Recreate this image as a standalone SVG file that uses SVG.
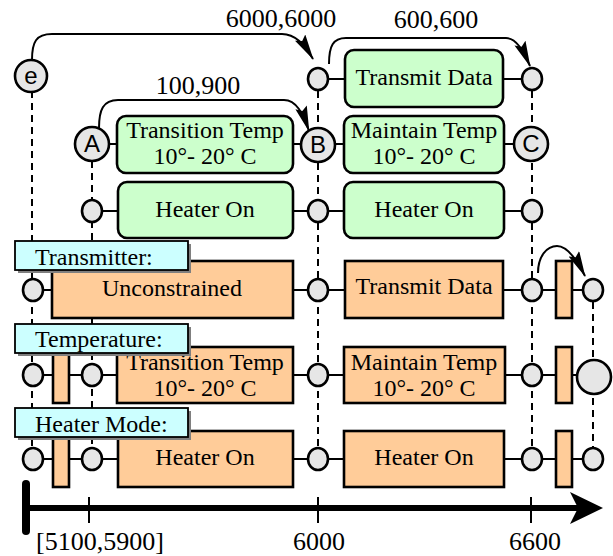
<svg xmlns="http://www.w3.org/2000/svg" width="613" height="556" viewBox="0 0 613 556">
<style>
.bg{fill:#ffffff}
.dash{stroke:#000;stroke-width:2;stroke-dasharray:7,5;fill:none}
.row{stroke:#000;stroke-width:2;fill:none}
.arc{stroke:#000;stroke-width:2;fill:none;marker-end:url(#ah)}
.g{fill:#ccffcc;stroke:#000;stroke-width:2.6}
.o{fill:#ffcc99;stroke:#000;stroke-width:2.6}
.pt{fill:#e6e6e6;stroke:#000;stroke-width:2.6}
.lab{fill:#ccffff;stroke:#000;stroke-width:1.8}
.sh{fill:#7f7f7f}
.t{font-family:"Liberation Serif","Times New Roman",serif;font-size:24px;fill:#000;text-anchor:middle}
.tl{font-family:"Liberation Serif","Times New Roman",serif;font-size:24px;fill:#000}
.el{font-family:"Liberation Serif","Times New Roman",serif;font-size:26px;fill:#000;text-anchor:middle}
.al{font-family:"Liberation Serif","Times New Roman",serif;font-size:26px;fill:#000;text-anchor:middle}
.c{font-family:"Liberation Sans",Arial,sans-serif;font-size:24px;fill:#000;text-anchor:middle}
.ax{stroke:#000;stroke-width:6;fill:none}
.tick{stroke:#000;stroke-width:2}
</style>
<defs>
<marker id="ah" viewBox="0 0 26 12" refX="25" refY="6" markerWidth="26" markerHeight="12" markerUnits="userSpaceOnUse" orient="auto">
<path d="M0,0 L26,6 L0,12 L4,6 z" fill="#000"/>
</marker>
</defs>
<rect class="bg" x="0" y="0" width="613" height="556"/>

<g id="connectors">
<line class="dash" x1="32" y1="91" x2="32" y2="459"/>
<line class="dash" x1="92" y1="161" x2="92" y2="459"/>
<line class="dash" x1="318" y1="79" x2="318" y2="459"/>
<line class="dash" x1="532" y1="79" x2="532" y2="459"/>
<line class="dash" x1="593" y1="290" x2="593" y2="459"/>
<line class="row" x1="318" y1="79" x2="532" y2="79"/>
<line class="row" x1="92" y1="144" x2="532" y2="144"/>
<line class="row" x1="92" y1="211" x2="532" y2="211"/>
<line class="row" x1="32" y1="290" x2="593" y2="290"/>
<line class="row" x1="32" y1="375" x2="594" y2="375"/>
<line class="row" x1="32" y1="459" x2="593" y2="459"/>
<path class="arc" d="M32,60 C32,42 36,34 52,34 L282,34 C295,34 304,44 313,59"/>
<path class="arc" d="M99,128 C99,110 103,100 118,100 L284,100 C296,100 303,113 309,131"/>
<path class="arc" d="M329,64 C329,46 333,38 346,38 L506,38 C516,38 523,50 530,66"/>
<path class="arc" d="M538,273 C538,256 547,246 557,246 C566,246 576,258 585,276"/>
</g>

<g id="e"><circle class="pt" cx="31" cy="76" r="16"/><text class="c" x="31" y="84">e</text></g>
<g id="r1-in"><ellipse class="pt" cx="318" cy="79" rx="10" ry="11"/></g>
<g id="g-transmit"><rect class="g" x="345" y="50" width="158" height="57" rx="9"/><text class="t" x="424" y="85">Transmit Data</text></g>
<g id="r1-out"><ellipse class="pt" cx="532" cy="79" rx="10" ry="11"/></g>

<g id="A"><circle class="pt" cx="92" cy="144" r="17"/><text class="c" x="92" y="152">A</text></g>
<g id="g-transition"><rect class="g" x="117" y="116" width="176" height="57" rx="9"/><text class="t" x="205" y="138">Transition Temp</text><text class="t" x="205" y="164">10°- 20° C</text></g>
<g id="B"><circle class="pt" cx="318" cy="145" r="17"/><text class="c" x="318" y="153">B</text></g>
<g id="g-maintain"><rect class="g" x="344" y="116" width="160" height="57" rx="9"/><text class="t" x="424" y="138">Maintain Temp</text><text class="t" x="424" y="164">10°- 20° C</text></g>
<g id="C"><circle class="pt" cx="531" cy="144" r="17"/><text class="c" x="531" y="152">C</text></g>

<g id="r3-a"><ellipse class="pt" cx="92" cy="211" rx="10" ry="11"/></g>
<g id="g-heater1"><rect class="g" x="118" y="182" width="175" height="56" rx="9"/><text class="t" x="205" y="217">Heater On</text></g>
<g id="r3-b"><ellipse class="pt" cx="318" cy="211" rx="10" ry="11"/></g>
<g id="g-heater2"><rect class="g" x="344" y="182" width="160" height="56" rx="9"/><text class="t" x="424" y="217">Heater On</text></g>
<g id="r3-c"><ellipse class="pt" cx="532" cy="211" rx="10" ry="11"/></g>

<g id="r4-a"><ellipse class="pt" cx="33" cy="290" rx="10" ry="11"/></g>
<g id="o-unconstrained"><rect class="o" x="52" y="261" width="241" height="57"/><text class="t" x="172" y="296">Unconstrained</text></g>
<g id="r4-b"><ellipse class="pt" cx="318" cy="290" rx="10" ry="11"/></g>
<g id="o-transmit"><rect class="o" x="345" y="261" width="158" height="57"/><text class="t" x="424" y="294">Transmit Data</text></g>
<g id="r4-c"><ellipse class="pt" cx="532" cy="290" rx="10" ry="11"/></g>
<g id="r4-bar"><rect class="o" x="556" y="261" width="16" height="57"/></g>
<g id="r4-d"><ellipse class="pt" cx="593" cy="290" rx="10" ry="11"/></g>

<g id="r5-a"><ellipse class="pt" cx="33" cy="375" rx="10" ry="11"/></g>
<g id="r5-bar1"><rect class="o" x="53" y="347" width="16" height="56"/></g>
<g id="r5-b"><ellipse class="pt" cx="92" cy="375" rx="10" ry="11"/></g>
<g id="o-transition"><rect class="o" x="117" y="347" width="176" height="56"/><text class="t" x="205" y="370">Transition Temp</text><text class="t" x="205" y="396">10°- 20° C</text></g>
<g id="r5-c"><ellipse class="pt" cx="318" cy="375" rx="10" ry="11"/></g>
<g id="o-maintain"><rect class="o" x="344" y="347" width="161" height="56"/><text class="t" x="424" y="370">Maintain Temp</text><text class="t" x="424" y="396">10°- 20° C</text></g>
<g id="r5-d"><ellipse class="pt" cx="532" cy="375" rx="10" ry="11"/></g>
<g id="r5-bar2"><rect class="o" x="556" y="347" width="16" height="56"/></g>
<g id="r5-end"><circle class="pt" cx="594" cy="377" r="17"/></g>

<g id="r6-a"><ellipse class="pt" cx="33" cy="459" rx="10" ry="11"/></g>
<g id="r6-bar1"><rect class="o" x="53" y="431" width="16" height="56"/></g>
<g id="r6-b"><ellipse class="pt" cx="92" cy="459" rx="10" ry="11"/></g>
<g id="o-heater1"><rect class="o" x="118" y="431" width="175" height="56"/><text class="t" x="205" y="465">Heater On</text></g>
<g id="r6-c"><ellipse class="pt" cx="318" cy="459" rx="10" ry="11"/></g>
<g id="o-heater2"><rect class="o" x="344" y="431" width="160" height="56"/><text class="t" x="424" y="465">Heater On</text></g>
<g id="r6-d"><ellipse class="pt" cx="532" cy="459" rx="10" ry="11"/></g>
<g id="r6-bar2"><rect class="o" x="556" y="431" width="16" height="56"/></g>
<g id="r6-e"><ellipse class="pt" cx="593" cy="459" rx="10" ry="11"/></g>

<g id="label-transmitter"><rect class="sh" x="18" y="244" width="173" height="29"/><rect class="lab" x="15" y="241" width="173" height="29"/><text class="tl" x="35" y="265">Transmitter:</text></g>
<g id="label-temperature"><rect class="sh" x="18" y="327" width="173" height="29"/><rect class="lab" x="15" y="324" width="173" height="29"/><text class="tl" x="35" y="347">Temperature:</text></g>
<g id="label-heatermode"><rect class="sh" x="18" y="411" width="173" height="29"/><rect class="lab" x="15" y="408" width="173" height="29"/><text class="tl" x="35" y="432">Heater Mode:</text></g>

<g id="edge-labels">
<text class="el" x="281" y="27">6000,6000</text>
<text class="el" x="198" y="94">100,900</text>
<text class="el" x="436" y="28">600,600</text>
</g>

<g id="axis">
<line class="ax" x1="26" y1="508" x2="580" y2="508"/>
<polygon points="570,492 603,508 570,524 578,508" fill="#000"/>
<line x1="26" y1="484" x2="26" y2="531" stroke="#000" stroke-width="8" stroke-linecap="round"/>
<line class="tick" x1="89" y1="497" x2="89" y2="523"/>
<line class="tick" x1="318" y1="497" x2="318" y2="523"/>
<line class="tick" x1="531" y1="497" x2="531" y2="523"/>
<text class="al" x="100" y="550">[5100,5900]</text>
<text class="al" x="319" y="550">6000</text>
<text class="al" x="535" y="550">6600</text>
</g>
</svg>
